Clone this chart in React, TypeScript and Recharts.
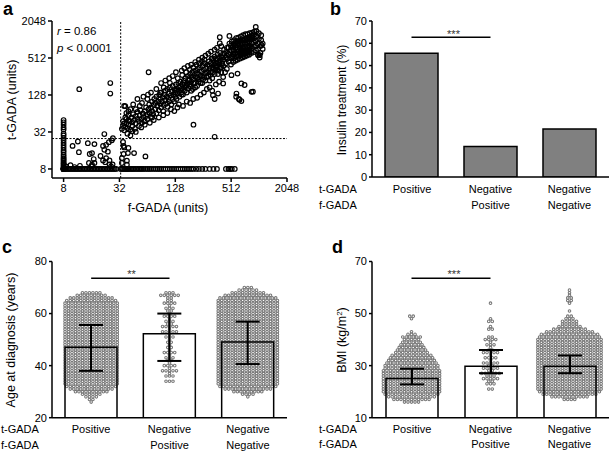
import React from 'react';
import {
  ScatterChart, Scatter, ComposedChart, BarChart, Bar, ErrorBar, XAxis, YAxis, ReferenceLine,
} from 'recharts';

const FONT = '"Liberation Sans", Arial, Helvetica, sans-serif';

// ---------- panel a: f-GADA vs t-GADA (units) ----------
// t values of samples sitting at f = 8
const tAtF8 = [8, 8, 8, 8, 8, 8, 8.3, 8.6, 9, 9.4, 9.8, 10.2, 10.8, 11.4, 12, 12.8, 13.7, 15, 16.2, 17.7, 19.5, 21.3, 23.4, 25.6, 28, 30, 35, 38, 42, 46, 50];
// f values of samples sitting at t = 8
const fAtT8 = [8, 8.2, 8.4, 8.7, 9, 9.3, 9.6, 10, 10.3, 10.7, 11, 11.4, 11.8, 12.2, 12.7, 13.2, 13.7, 14.2, 14.8, 15.4, 16, 16.6, 17.2, 17.9, 18.6, 19.3, 20, 20.8, 21.6, 22.5, 23.4, 24.3, 25.3, 26.3, 27.3, 28.4, 29.5,
  33, 34, 35, 36, 37, 38, 39, 40, 41.5, 43, 44.5, 46, 48, 50, 52, 54, 56, 58, 61, 64, 67, 70, 74, 78, 82, 86, 90, 95, 100, 106, 112, 118, 124, 131, 138, 146, 154, 162, 171, 180, 190, 200, 215, 230, 250, 270, 300, 330, 360, 450, 480, 500, 520, 560];
const lowPairs = [
  [8.5, 8.8], [9.5, 9.2], [10.5, 8.6], [12, 9], [26, 8.8], [25, 9.5], [11.4, 22.4], [11.7, 15], [10, 19], [14.6, 21], [15.3, 14], [15, 10],
  [16.2, 14.5], [16.9, 11.6], [17.2, 20.3], [17.2, 10], [16.2, 9.4], [21.3, 18.9], [22, 16.4], [24, 15.3], [23, 19.8], [24.6, 21.8],
  [26.5, 23.4], [27.2, 25.3], [22, 29.6], [21.3, 11], [22.5, 10.3], [16.2, 8.9], [20, 13], [23, 12], [25, 11], [27, 9.5],
  [11.8, 159], [25.5, 200], [25.5, 135],
  [35.5, 18.9], [40, 17.6], [35.5, 14], [39.5, 14.5], [38.5, 10.9], [38.5, 9.4], [61, 12.8], [36, 17.9], [46, 14.5], [34, 12], [34, 10], [35, 22],
];
const diagPairs = [
  [34, 36], [35, 40], [35, 48], [36, 85], [36, 34], [37, 39], [38, 44], [38, 52], [39, 37], [40, 42], [40, 60], [41, 48], [42, 35], [43, 55],
  [44, 46], [44, 40], [45, 62], [46, 50], [47, 36], [48, 58], [48, 44], [50, 52], [50, 68], [52, 48], [52, 40], [53, 60], [54, 72], [55, 52],
  [56, 45], [57, 64], [58, 56], [60, 70], [60, 48], [62, 80], [62, 58], [64, 62], [64, 52], [66, 75], [67, 90], [68, 66], [70, 56], [70, 80],
  [72, 100], [72, 70], [74, 62], [75, 88], [76, 110], [78, 75], [78, 95], [80, 64], [80, 120], [82, 85], [84, 100], [85, 72], [86, 128],
  [88, 92], [88, 110], [90, 80], [90, 140], [92, 100], [94, 118], [95, 70], [96, 88], [98, 130], [100, 105], [100, 150], [102, 92], [104, 120],
  [105, 160], [106, 82], [108, 110], [110, 135], [110, 100], [112, 170], [114, 125], [116, 90], [118, 145], [120, 110], [120, 180], [122, 130],
  [124, 100], [126, 155], [128, 120], [128, 140], [130, 190], [132, 110], [134, 160], [136, 135], [138, 200], [140, 150], [142, 120], [144, 175],
  [146, 210], [148, 140], [150, 160], [152, 190], [155, 130], [158, 220], [160, 170], [162, 150], [165, 240], [168, 185], [170, 140], [172, 200],
  [175, 260], [178, 165], [180, 230], [182, 190], [185, 280], [188, 175], [190, 210], [192, 250], [195, 300], [198, 160], [200, 230], [204, 270],
  [208, 200], [210, 320], [214, 250], [218, 290], [220, 180], [224, 340], [228, 230], [232, 280], [236, 360], [240, 200], [244, 310], [248, 260],
  [252, 380], [256, 230], [260, 330], [265, 420], [270, 290], [275, 350], [280, 250], [285, 400], [290, 300], [295, 450], [300, 340], [305, 270],
  [310, 420], [315, 500], [320, 360], [325, 300], [330, 460], [335, 390], [340, 540], [345, 330], [350, 420], [355, 480], [360, 380], [365, 580],
  [370, 440], [375, 320], [380, 520], [385, 400], [390, 620], [395, 470], [400, 360], [400, 550],
];
const spreadPairs = [
  [40, 70], [42, 28], [45, 90], [48, 32], [50, 110], [55, 38], [58, 120], [60, 42], [65, 130], [68, 45], [70, 140], [75, 50], [80, 160], [85, 55],
  [90, 200], [95, 60], [100, 220], [105, 65], [110, 240], [115, 75], [120, 260], [125, 70], [130, 300], [135, 80], [140, 90], [150, 320], [155, 85],
  [160, 350], [170, 100], [175, 380], [185, 95], [190, 400], [200, 110], [210, 440], [220, 115], [230, 480], [240, 130], [250, 520], [260, 140],
  [270, 560], [280, 160], [290, 600], [300, 170], [310, 650], [320, 150], [340, 700], [350, 190], [360, 750], [380, 210], [400, 800], [420, 250],
  [440, 300], [460, 340], [48, 75], [56, 95], [64, 110], [72, 55], [88, 140], [96, 170], [112, 200], [136, 240], [152, 270], [168, 300], [184, 330],
  [200, 360], [216, 400], [232, 420], [248, 450], [264, 480], [37, 55], [38, 65], [40, 50], [42, 75], [36, 44], [39, 30], [44, 33], [53, 85],
];
const midPairs = [
  [260, 250], [270, 220], [280, 300], [290, 260], [300, 380], [310, 300], [320, 240], [330, 340], [340, 280], [350, 380], [360, 330], [370, 280],
  [380, 440], [390, 360], [400, 300], [410, 420], [410, 520], [300, 220], [250, 200], [240, 260], [230, 210], [220, 240], [210, 170], [200, 200],
  [190, 150], [180, 220], [170, 180], [160, 200], [150, 130], [140, 170], [130, 150],
];
const blobPairs = [
  [420, 380], [420, 480], [420, 600], [430, 700], [450, 420], [450, 520], [450, 640], [460, 750], [460, 560], [480, 450], [480, 600], [480, 760],
  [490, 1170], [490, 880], [510, 400], [510, 520], [510, 680], [510, 820], [520, 950], [540, 440], [540, 580], [540, 700], [540, 860], [550, 1000],
  [550, 500], [570, 460], [570, 620], [570, 760], [570, 900], [580, 1080], [580, 540], [600, 480], [600, 600], [600, 700], [600, 820], [600, 960],
  [610, 1100], [640, 500], [640, 620], [640, 740], [640, 860], [640, 1000], [650, 1150], [650, 560], [680, 520], [680, 640], [680, 760], [680, 880],
  [680, 1000], [690, 1200], [690, 580], [720, 540], [720, 660], [720, 780], [720, 900], [720, 1040], [730, 1250], [730, 600], [760, 560], [760, 680],
  [760, 800], [760, 920], [760, 1080], [770, 1250], [770, 620], [800, 580], [800, 700], [800, 820], [800, 960], [800, 1120], [810, 1300], [810, 640],
  [850, 620], [850, 740], [850, 880], [850, 1020], [860, 1180], [860, 1320], [900, 640], [900, 780], [900, 920], [900, 1080], [910, 1250], [910, 1380],
  [950, 680], [950, 820], [950, 980], [960, 1150], [960, 1400], [1000, 580], [1000, 720], [1000, 880], [1020, 1050], [1020, 1300], [1060, 620],
  [1060, 800], [1080, 1000], [1080, 1200], [1120, 720], [1120, 880], [470, 500], [500, 640], [530, 760], [560, 820], [590, 880], [620, 900],
  [660, 940], [700, 980], [740, 1000], [780, 1020], [820, 1060], [870, 1100], [620, 660], [660, 700], [700, 720], [740, 740], [780, 760],
  [820, 780], [530, 540], [560, 600], [590, 640], [620, 560], [660, 600], [700, 620], [740, 640], [780, 660],
];
const outlierPairs = [
  [386, 1115], [386, 890], [326, 502], [850, 144], [660, 197], [584, 135], [580, 120], [620, 110], [660, 102], [420, 197], [516, 269], [326, 127],
  [370, 135], [340, 110], [600, 285], [1000, 570], [1040, 520], [1040, 570], [1090, 826], [943, 1640], [880, 145], [66, 300], [37, 84],
  [201, 42], [340, 26.7], [715, 186], [630, 107],
];
const gadaTicks = [8, 32, 128, 512, 2048];

// ---------- panels b-d: three groups ----------
const groups = ['Positive', 'Negative / Positive', 'Negative / Negative'];
const insulinPct = [55.5, 13.7, 21.5];

const ageMean = [47.1, 52.2, 49.1];
const ageLow = [38.0, 41.8, 40.6];
const ageHigh = [55.6, 60.0, 56.9];
const ageBins = [26, 27, 28, 29, 30, 31, 32, 33, 34, 35, 36, 37, 38, 39, 40, 41, 42, 43, 44, 45, 46, 47, 48, 49, 50, 51, 52, 53, 54, 55, 56, 57, 58, 59, 60, 61, 62, 63, 64, 65, 66, 67, 68, 69, 70];
const ageTpos = [1, 2, 4, 6, 10, 13, 15, 16, 16, 16, 16, 16, 16, 16, 16, 16, 16, 16, 16, 16, 16, 16, 16, 16, 16, 16, 16, 16, 16, 16, 16, 16, 16, 16, 16, 16, 16, 16, 16, 15, 13, 9, 6, 0, 0];
const ageFpos = [0, 0, 0, 0, 0, 0, 0, 0, 3, 0, 3, 1, 5, 1, 4, 1, 2, 3, 1, 4, 1, 2, 1, 2, 1, 3, 1, 5, 1, 5, 2, 3, 1, 4, 1, 2, 3, 1, 4, 2, 2, 6, 3, 0, 0];
const ageNeg = [0, 0, 1, 4, 9, 14, 17, 18, 18, 18, 18, 18, 18, 18, 18, 18, 18, 18, 18, 18, 18, 18, 18, 18, 18, 18, 18, 18, 18, 18, 18, 18, 18, 18, 18, 18, 18, 18, 18, 18, 17, 14, 10, 6, 3];

const bmiMean = [25.1, 29.8, 29.8];
const bmiLow = [22.8, 27.1, 27.1];
const bmiHigh = [28.8, 36.0, 33.9];
const bmiBins = [15, 16, 17, 18, 19, 20, 21, 22, 23, 24, 25, 26, 27, 28, 29, 30, 31, 32, 33, 34, 35, 36, 37, 38, 39, 40, 41, 42, 43, 44, 45, 46, 47, 48, 49, 50, 51, 52, 53, 54, 55, 56, 57, 58, 59, 60];
const bmiTpos = [0, 5, 11, 14, 16, 17, 17, 17, 17, 17, 17, 17, 17, 17, 16, 16, 15, 14, 13, 12, 10, 9, 8, 7, 6, 5, 6, 3, 1, 0, 0, 0, 0, 1, 2, 0, 0, 0, 0, 0, 0, 0, 0, 0, 0, 0];
const bmiFpos = [0, 0, 0, 0, 0, 0, 2, 0, 3, 2, 5, 3, 6, 2, 5, 2, 5, 1, 4, 1, 5, 2, 1, 3, 1, 4, 2, 0, 0, 2, 1, 0, 2, 1, 0, 0, 0, 0, 0, 1, 0, 0, 0, 0, 0, 0];
const bmiNeg = [0, 0, 4, 11, 16, 18, 19, 19, 19, 19, 19, 19, 19, 19, 19, 19, 19, 19, 19, 19, 19, 19, 19, 19, 19, 19, 18, 17, 14, 10, 7, 5, 5, 3, 2, 0, 1, 0, 0, 1, 2, 2, 1, 1, 1, 0];

// ---------- helpers ----------
const gadaPoints = [
  ...tAtF8.map((t) => ({ f: 8, t })),
  ...fAtT8.map((f) => ({ f, t: 8 })),
  ...[...lowPairs, ...diagPairs, ...spreadPairs, ...midPairs, ...blobPairs, ...outlierPairs].map(([f, t]) => ({ f, t })),
];

const DX = 0.0445; // horizontal dot pitch in category units
function swarm(bins: number[], counts: number[][]) {
  const pts: { x: number; y: number }[] = [];
  counts.forEach((c, g) => {
    bins.forEach((v, i) => {
      const n = c[i];
      for (let k = 0; k < n; k++) pts.push({ x: g + (k - (n - 1) / 2) * DX, y: v });
    });
  });
  return pts;
}
const agePoints = swarm(ageBins, [ageTpos, ageFpos, ageNeg]);
const bmiPoints = swarm(bmiBins, [bmiTpos, bmiFpos, bmiNeg]);

const insulinData = groups.map((g, i) => ({ g, pct: insulinPct[i] }));
const ageData = groups.map((g, i) => ({ g, mean: ageMean[i], err: [ageMean[i] - ageLow[i], ageHigh[i] - ageMean[i]] }));
const bmiData = groups.map((g, i) => ({ g, mean: bmiMean[i], err: [bmiMean[i] - bmiLow[i], bmiHigh[i] - bmiMean[i]] }));

const axisLine = { stroke: '#000', strokeWidth: 1.5 };
const tickText = { fontSize: 11, fill: '#000', fontFamily: FONT };

const gadaDot = (p: any) => <circle cx={p.cx} cy={p.cy} r={2.3} fill="none" stroke="#000" strokeWidth={1.2} />;
const swarmDot = (p: any) => <circle cx={p.cx} cy={p.cy} r={1.3} fill="none" stroke="#777" strokeWidth={1.05} />;

const abs = (left: number, top: number): React.CSSProperties => ({ position: 'absolute', left, top });

function SwarmPanel({ left, top, data, points, domain, ticks, ml, mr, sigY }: any) {
  const plotTop = 31.5;
  return (
    <>
      <div style={abs(left, top)}>
        <ComposedChart width={305} height={222} margin={{ top: plotTop, right: mr, bottom: 14.3, left: ml - 40 }}>
          <XAxis type="number" dataKey="x" domain={[-0.5, 2.5]} allowDataOverflow tick={false} tickLine={false} axisLine={axisLine} height={20} />
          <YAxis type="number" dataKey="y" domain={domain} ticks={ticks} allowDataOverflow interval={0} width={40}
            tick={tickText} tickSize={3} tickMargin={2} tickLine={axisLine} axisLine={axisLine} />
          <Scatter data={points} isAnimationActive={false} shape={swarmDot} />
        </ComposedChart>
      </div>
      <div style={abs(left, top)}>
        <ComposedChart width={305} height={222} data={data} margin={{ top: plotTop, right: mr, bottom: 34.3, left: ml }}>
          <XAxis dataKey="g" hide />
          <YAxis domain={domain} allowDataOverflow hide />
          <Bar dataKey="mean" fill="none" stroke="#000" strokeWidth={1.5} barSize={52} isAnimationActive={false}>
            <ErrorBar dataKey="err" width={12} stroke="#000" strokeWidth={2} isAnimationActive={false} />
          </Bar>
          <ReferenceLine segment={[{ x: groups[0], y: sigY }, { x: groups[1], y: sigY }]} stroke="#000" strokeWidth={1.5} ifOverflow="visible" />
        </ComposedChart>
      </div>
    </>
  );
}

export default function App() {
  return (
    <div style={{ position: 'absolute', left: 0, top: 0, width: 610, height: 452, background: '#fff', fontFamily: FONT }}>
      {/* a */}
      <div style={abs(0, 0)}>
        <ScatterChart width={305} height={230} margin={{ top: 21, right: 18, bottom: 32, left: 12 }}>
          <XAxis type="number" dataKey="f" scale="log" domain={[6, 2048]} ticks={gadaTicks} allowDataOverflow interval={0} height={20}
            tick={tickText} tickSize={4} tickMargin={2} tickLine={axisLine} axisLine={axisLine} />
          <YAxis type="number" dataKey="t" scale="log" domain={[5.7, 2048]} ticks={gadaTicks} allowDataOverflow interval={0} width={40}
            tick={tickText} tickSize={4} tickMargin={2} tickLine={axisLine} axisLine={axisLine} />
          <ReferenceLine x={33} stroke="#000" strokeWidth={1} strokeDasharray="2 1.5" />
          <ReferenceLine y={25} stroke="#000" strokeWidth={1} strokeDasharray="2 1.5" />
          <Scatter data={gadaPoints} isAnimationActive={false} shape={gadaDot} />
        </ScatterChart>
      </div>

      {/* b */}
      <div style={abs(305, 0)}>
        <BarChart width={305} height={230} data={insulinData} margin={{ top: 21, right: 1, bottom: 33, left: 27 }}>
          <XAxis dataKey="g" tick={false} tickLine={false} axisLine={axisLine} height={20} />
          <YAxis domain={[0, 70]} ticks={[0, 10, 20, 30, 40, 50, 60, 70]} allowDataOverflow interval={0} width={40}
            tick={tickText} tickSize={3} tickMargin={2} tickLine={axisLine} axisLine={axisLine} />
          <Bar dataKey="pct" fill="#808080" stroke="#000" strokeWidth={1.5} barSize={53} isAnimationActive={false} />
          <ReferenceLine segment={[{ x: groups[0], y: 62.7 }, { x: groups[1], y: 62.7 }]} stroke="#000" strokeWidth={1.5} ifOverflow="visible" />
        </BarChart>
      </div>

      {/* c */}
      <SwarmPanel left={0} top={230} data={ageData} points={agePoints} domain={[20, 80]} ticks={[20, 40, 60, 80]} ml={52} mr={18} sigY={73.6} />
      {/* d */}
      <SwarmPanel left={305} top={230} data={bmiData} points={bmiPoints} domain={[10, 70]} ticks={[10, 30, 50, 70]} ml={67} mr={1} sigY={63.6} />

      {/* text layer */}
      <svg width={610} height={452} style={{ position: 'absolute', left: 0, top: 0, pointerEvents: 'none' }} fontFamily={FONT}>
        <g fontSize={18} fontWeight="bold">
          <text x={3} y={15}>a</text>
          <text x={330} y={15}>b</text>
          <text x={2} y={252.5}>c</text>
          <text x={332} y={252.5}>d</text>
        </g>
        <g fontSize={11.5}>
          <text x={57} y={35}><tspan fontStyle="italic">r</tspan> = 0.86</text>
          <text x={57} y={52}><tspan fontStyle="italic">p</tspan> &lt; 0.0001</text>
        </g>
        <g fontSize={12.5}>
          <text x={168} y={212} textAnchor="middle">f-GADA (units)</text>
          <text transform="translate(16,100) rotate(-90)" textAnchor="middle">t-GADA (units)</text>
          <text transform="translate(346,100) rotate(-90)" textAnchor="middle" fontSize={12}>Insulin treatment (%)</text>
          <text transform="translate(14.5,340) rotate(-90)" textAnchor="middle">Age at diagnosis (years)</text>
          <text transform="translate(345.5,340) rotate(-90)" textAnchor="middle">BMI (kg/m<tspan dy={-4} fontSize={8}>2</tspan><tspan dy={4}>)</tspan></text>
        </g>
        <g fontSize={11} fill="#333">
          <text x={453.5} y={37.5} textAnchor="middle">***</text>
          <text x={131.5} y={278} textAnchor="middle">**</text>
          <text x={454} y={277.5} textAnchor="middle">***</text>
        </g>
        <g fontSize={11}>
          <text x={319} y={192.5}>t-GADA</text>
          <text x={319} y={208.5}>f-GADA</text>
          <text x={412} y={192.5} textAnchor="middle">Positive</text>
          <text x={490.5} y={192.5} textAnchor="middle">Negative</text>
          <text x={490.5} y={208.5} textAnchor="middle">Positive</text>
          <text x={569.5} y={192.5} textAnchor="middle">Negative</text>
          <text x={569.5} y={208.5} textAnchor="middle">Negative</text>

          <text x={1} y={433}>t-GADA</text>
          <text x={1} y={448.5}>f-GADA</text>
          <text x={91} y={433} textAnchor="middle">Positive</text>
          <text x={169.5} y={433} textAnchor="middle">Negative</text>
          <text x={169.5} y={448.5} textAnchor="middle">Positive</text>
          <text x={248} y={433} textAnchor="middle">Negative</text>
          <text x={248} y={448.5} textAnchor="middle">Negative</text>

          <text x={319} y={432.5}>t-GADA</text>
          <text x={319} y={448}>f-GADA</text>
          <text x={412} y={432.5} textAnchor="middle">Positive</text>
          <text x={490.5} y={432.5} textAnchor="middle">Negative</text>
          <text x={490.5} y={448} textAnchor="middle">Positive</text>
          <text x={569.5} y={432.5} textAnchor="middle">Negative</text>
          <text x={569.5} y={448} textAnchor="middle">Negative</text>
        </g>
      </svg>
    </div>
  );
}
